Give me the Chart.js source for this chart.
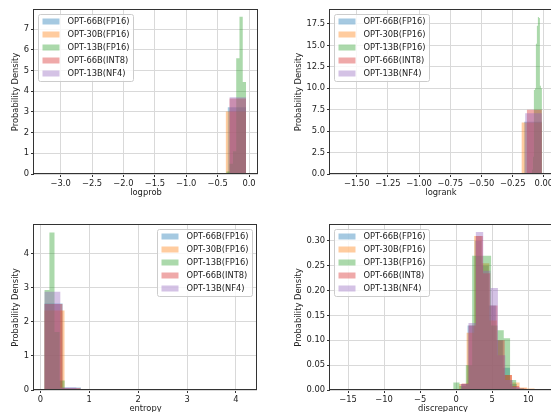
<!DOCTYPE html>
<html>
<head>
<meta charset="utf-8">
<script src="https://cdn.jsdelivr.net/npm/chart.js@4.4.0/dist/chart.umd.min.js"></script>
<style>
html, body { margin: 0; padding: 0; background: #fff; overflow: hidden; }
#fig { position: relative; width: 551px; height: 412px; overflow: hidden; }
canvas { position: absolute; }
</style>
</head>
<body>
<div id="fig">
  <canvas id="logprobChart" width="275" height="206" style="left:0px;top:0px"></canvas>
  <canvas id="logrankChart" width="290" height="206" style="left:275px;top:0px"></canvas>
  <canvas id="entropyChart" width="275" height="216" style="left:0px;top:206px"></canvas>
  <canvas id="discrepancyChart" width="290" height="216" style="left:275px;top:206px"></canvas>
</div>
<script>
// model names, same order in every panel
const models = ["OPT-66B(FP16)", "OPT-30B(FP16)", "OPT-13B(FP16)", "OPT-66B(INT8)", "OPT-13B(NF4)"];
const colors = ["rgba(31,119,180,0.4)", "rgba(255,127,14,0.4)", "rgba(44,160,44,0.4)", "rgba(214,39,40,0.4)", "rgba(148,103,189,0.4)"];

// ---- logprob: bin edges and densities
const lpEdges66 = [-2.948, -2.658, -2.368, -2.078, -1.788, -1.498, -1.208, -0.918, -0.628, -0.338, -0.048];
const lpDens66 = [0.004, 0, 0, 0.01, 0.008, 0.012, 0.015, 0.02, 0.02, 3.23];
const lpEdges30 = [-3.258, -2.937, -2.616, -2.295, -1.974, -1.653, -1.332, -1.011, -0.69, -0.369, -0.048];
const lpDens30 = [0.003, 0, 0.003, 0.035, 0.035, 0.035, 0.035, 0.035, 0.01, 3.02];
const lpEdges13 = [-0.568, -0.516, -0.464, -0.412, -0.36, -0.308, -0.256, -0.204, -0.152, -0.1, -0.048];
const lpDens13 = [0.04, 0, 0.01, 0.02, 0.12, 0.5, 1.1, 5.6, 7.6, 4.45];
const lpEdges66i = [-2.668, -2.406, -2.144, -1.882, -1.62, -1.358, -1.096, -0.834, -0.572, -0.31, -0.048];
const lpDens66i = [0.002, 0, 0.035, 0.035, 0.03, 0.035, 0.035, 0.02, 0.02, 3.65];
const lpEdges13n = [-2.658, -2.397, -2.136, -1.875, -1.614, -1.353, -1.092, -0.831, -0.57, -0.309, -0.048];
const lpDens13n = [0.002, 0, 0, 0, 0, 0, 0.05, 0, 0.03, 3.71];
const lpXTicks = [-3.0, -2.5, -2.0, -1.5, -1.0, -0.5, 0.0];
const lpYTicks = [0, 1, 2, 3, 4, 5, 6, 7];

// ---- logrank
const lrEdges66 = [-1.436, -1.294, -1.152, -1.01, -0.868, -0.726, -0.584, -0.442, -0.3, -0.158, -0.016];
const lrDens66 = [0.002, 0, 0, 0, 0.1, 0.01, 0.01, 0.02, 0.05, 6.1];
const lrEdges30 = [-1.633, -1.471, -1.31, -1.148, -0.986, -0.825, -0.663, -0.501, -0.34, -0.178, -0.016];
const lrDens30 = [0.003, 0, 0, 0, 0, 0.005, 0.01, 0.02, 0.04, 6.0];
const lrEdges13 = [-0.096, -0.088, -0.08, -0.072, -0.064, -0.056, -0.048, -0.04, -0.032, -0.024, -0.016];
const lrDens13 = [0.5, 2.0, 9.8, 10.0, 15.2, 17.3, 18.3, 18.2, 10.3, 10.0];
const lrEdges66i = [-1.216, -1.096, -0.976, -0.856, -0.736, -0.616, -0.496, -0.376, -0.256, -0.136, -0.016];
const lrDens66i = [0.002, 0, 0, 0, 0.01, 0.1, 0.1, 0.1, 0.1, 7.5];
const lrEdges13n = [-1.356, -1.222, -1.088, -0.954, -0.82, -0.686, -0.552, -0.418, -0.284, -0.15, -0.016];
const lrDens13n = [0.002, 0, 0, 0, 0.005, 0.01, 0.015, 0.03, 0.05, 7.1];
const lrXTicks = [-1.5, -1.25, -1.0, -0.75, -0.5, -0.25, 0.0];
const lrYTicks = [0, 2.5, 5, 7.5, 10, 12.5, 15, 17.5];

// ---- entropy
const enEdges66 = [0.082, 0.456, 0.83, 1.204, 1.578, 1.952, 2.326, 2.7, 3.074, 3.448, 3.822];
const enDens66 = [2.54, 0.07, 0.008, 0.004, 0.005, 0.006, 0.005, 0.004, 0.004, 0.003];
const enEdges30 = [0.082, 0.495, 0.908, 1.321, 1.734, 2.147, 2.56, 2.973, 3.386, 3.799, 4.212];
const enDens30 = [2.33, 0.03, 0.006, 0.01, 0.025, 0.02, 0.025, 0.025, 0.01, 0.005];
const enEdges13 = [0.082, 0.186, 0.29, 0.394, 0.498, 0.602, 0.706, 0.81, 0.914, 1.018, 1.122];
const enDens13 = [2.93, 4.62, 1.7, 0.28, 0.04, 0.01, 0.005, 0.003, 0.002, 0.01];
const enEdges66i = [0.082, 0.452, 0.822, 1.192, 1.562, 1.932, 2.302, 2.672, 3.042, 3.412, 3.782];
const enDens66i = [2.52, 0.06, 0.01, 0.004, 0.02, 0.02, 0.015, 0.01, 0.006, 0.004];
const enEdges13n = [0.082, 0.409, 0.736, 1.063, 1.39, 1.717, 2.044, 2.371, 2.698, 3.025, 3.352];
const enDens13n = [2.88, 0.07, 0.01, 0.004, 0.006, 0.025, 0.025, 0.01, 0.006, 0.004];
const enXTicks = [0, 1, 2, 3, 4];
const enYTicks = [0, 1, 2, 3, 4];

// ---- discrepancy
const dsEdges66 = [0.6, 1.58, 2.56, 3.54, 4.52, 5.5, 6.48, 7.46, 8.44, 9.42, 10.4];
const dsDens66 = [0.012, 0.13, 0.30, 0.25, 0.17, 0.1, 0.045, 0.012, 0.004, 0.002];
const dsEdges30 = [0.4, 1.45, 2.5, 3.55, 4.6, 5.65, 6.7, 7.75, 8.8, 9.85, 10.9];
const dsDens30 = [0.012, 0.115, 0.31, 0.255, 0.14, 0.07, 0.03, 0.015, 0.005, 0.003];
const dsEdges13 = [-0.41, 0.467, 1.343, 2.22, 3.097, 3.973, 4.85, 5.727, 6.603, 7.48, 8.357];
const dsDens13 = [0.015, 0.008, 0.05, 0.27, 0.27, 0.27, 0.13, 0.12, 0.104, 0.02];
const dsEdges66i = [0.73, 1.73, 2.73, 3.73, 4.73, 5.73, 6.73, 7.73, 8.73, 9.73, 10.73];
const dsDens66i = [0.013, 0.13, 0.31, 0.235, 0.17, 0.1, 0.03, 0.008, 0.003, 0.001];
const dsEdges13n = [-0.33, 0.69, 1.71, 2.73, 3.75, 4.77, 5.79, 6.81, 7.83, 8.85, 9.87];
const dsDens13n = [0.002, 0.012, 0.135, 0.318, 0.24, 0.205, 0.07, 0.02, 0.006, 0.002];
const dsXTicks = [-15, -10, -5, 0, 5, 10];
const dsYTicks = [0, 0.05, 0.10, 0.15, 0.20, 0.25, 0.30];

const FONT = {family: "'DejaVu Sans'", size: 8.33, lineHeight: 1.2};
const TEXT = "#222";

function fmtTick(v, dec) {
  return v.toFixed(dec).replace("-", "\u2212");
}

// histogram outline as a step line: each edge carries the density of the bin to its right
function histPoints(edges, dens) {
  return edges.map((x, i) => ({x: x, y: i < dens.length ? dens[i] : 0}));
}

// matplotlib-like frame (all four spines) and legend box
const frameLegend = {
  id: "frameLegend",
  afterDraw(chart, args, opts) {
    const ctx = chart.ctx, a = chart.chartArea;
    ctx.save();
    ctx.strokeStyle = "#333";
    ctx.lineWidth = 1;
    const l = Math.round(a.left) - 0.5, t = Math.round(a.top) - 0.5;
    const r = Math.round(a.right) - 0.5, b = Math.round(a.bottom) - 0.5;
    ctx.strokeRect(l, t, r - l, b - t);

    ctx.font = "8.33px 'DejaVu Sans'";
    const sets = chart.data.datasets;
    let tw = 0;
    sets.forEach(d => { tw = Math.max(tw, ctx.measureText(d.label).width); });
    const w = Math.round(29 + tw + 4), h = 67;
    const x = opts.side === "right" ? Math.round(a.right - 5 - w) + 0.5 : Math.round(a.left + 4) + 0.5;
    const y = Math.round(a.top + 3.5) + 0.5;
    const rad = 2;
    ctx.beginPath();
    ctx.moveTo(x + rad, y);
    ctx.arcTo(x + w, y, x + w, y + h, rad);
    ctx.arcTo(x + w, y + h, x, y + h, rad);
    ctx.arcTo(x, y + h, x, y, rad);
    ctx.arcTo(x, y, x + w, y, rad);
    ctx.closePath();
    ctx.fillStyle = "rgba(255,255,255,0.8)";
    ctx.fill();
    ctx.strokeStyle = "#cccccc";
    ctx.stroke();
    ctx.textBaseline = "middle";
    sets.forEach((d, i) => {
      const cy = y + 7 + i * 13;
      ctx.fillStyle = d.backgroundColor;
      ctx.fillRect(x + 4, cy - 3, 17, 6);
      ctx.fillStyle = TEXT;
      ctx.fillText(d.label, x + 29, cy);
    });
    ctx.restore();
  }
};

function drawHist(id, p) {
  const datasets = models.map((name, k) => ({
    label: name,
    data: histPoints(p.edges[k], p.dens[k]),
    stepped: true,
    fill: "origin",
    backgroundColor: colors[k],
    borderColor: "rgba(0,0,0,0)",
    borderWidth: 0,
    pointRadius: 0,
    order: 5 - k
  }));
  return new Chart(document.getElementById(id), {
    type: "line",
    data: {datasets: datasets},
    options: {
      responsive: false,
      animation: false,
      events: [],
      layout: {padding: {left: 0, top: p.padTop, right: p.padRight, bottom: 0}},
      plugins: {
        legend: {display: false},
        tooltip: {enabled: false},
        frameLegend: {side: p.legendSide}
      },
      scales: {
        x: {
          type: "linear",
          min: p.xMin, max: p.xMax,
          afterBuildTicks: s => { s.ticks = p.xTicks.map(v => ({value: v})); },
          afterFit: s => { s.height = 32; },
          ticks: {font: FONT, color: TEXT, padding: 1.5, maxRotation: 0, autoSkip: false,
                  callback: v => fmtTick(v, p.xDec)},
          grid: {color: "#d9d9d9", lineWidth: 1, tickColor: "#333", tickLength: 3},
          border: {display: false},
          title: {display: true, text: p.xTitle, font: FONT, color: TEXT, padding: {top: 0, bottom: 8.3}}
        },
        y: {
          type: "linear",
          min: 0, max: p.yMax,
          afterBuildTicks: s => { s.ticks = p.yTicks.map(v => ({value: v})); },
          afterFit: s => { s.width = p.yWidth; },
          ticks: {font: FONT, color: TEXT, padding: 2, autoSkip: false,
                  callback: v => fmtTick(v, p.yDec)},
          grid: {color: "#d9d9d9", lineWidth: 1, tickColor: "#333", tickLength: 3},
          border: {display: false},
          title: {display: true, text: "Probability Density", font: FONT, color: TEXT, padding: {top: p.yTitlePad, bottom: 0}}
        }
      }
    },
    plugins: [frameLegend]
  });
}

drawHist("logprobChart", {
  edges: [lpEdges66, lpEdges30, lpEdges13, lpEdges66i, lpEdges13n],
  dens: [lpDens66, lpDens30, lpDens13, lpDens66i, lpDens13n],
  xMin: -3.424, xMax: 0.143, yMax: 7.93,
  xTicks: lpXTicks, yTicks: lpYTicks, xDec: 1, yDec: 0,
  xTitle: "logprob", yWidth: 34, yTitlePad: 10.7, padTop: 10, padRight: 17, legendSide: "left"
});

drawHist("logrankChart", {
  edges: [lrEdges66, lrEdges30, lrEdges13, lrEdges66i, lrEdges13n],
  dens: [lrDens66, lrDens30, lrDens13, lrDens66i, lrDens13n],
  xMin: -1.714, xMax: 0.065, yMax: 19.13,
  xTicks: lrXTicks, yTicks: lrYTicks, xDec: 2, yDec: 1,
  xTitle: "logrank", yWidth: 55, yTitlePad: 19.3, padTop: 10, padRight: 13, legendSide: "left"
});

drawHist("entropyChart", {
  edges: [enEdges66, enEdges30, enEdges13, enEdges66i, enEdges13n],
  dens: [enDens66, enDens30, enDens13, enDens66i, enDens13n],
  xMin: -0.129, xMax: 4.43, yMax: 4.84,
  xTicks: enXTicks, yTicks: enYTicks, xDec: 0, yDec: 0,
  xTitle: "entropy", yWidth: 34, yTitlePad: 10.7, padTop: 19, padRight: 18, legendSide: "right"
});

drawHist("discrepancyChart", {
  edges: [dsEdges66, dsEdges30, dsEdges13, dsEdges66i, dsEdges13n],
  dens: [dsDens66, dsDens30, dsDens13, dsDens66i, dsDens13n],
  xMin: -17.5, xMax: 13.85, yMax: 0.332,
  xTicks: dsXTicks, yTicks: dsYTicks, xDec: 0, yDec: 2,
  xTitle: "discrepancy", yWidth: 55, yTitlePad: 19.3, padTop: 19, padRight: 9, legendSide: "left"
});
</script>
</body>
</html>
